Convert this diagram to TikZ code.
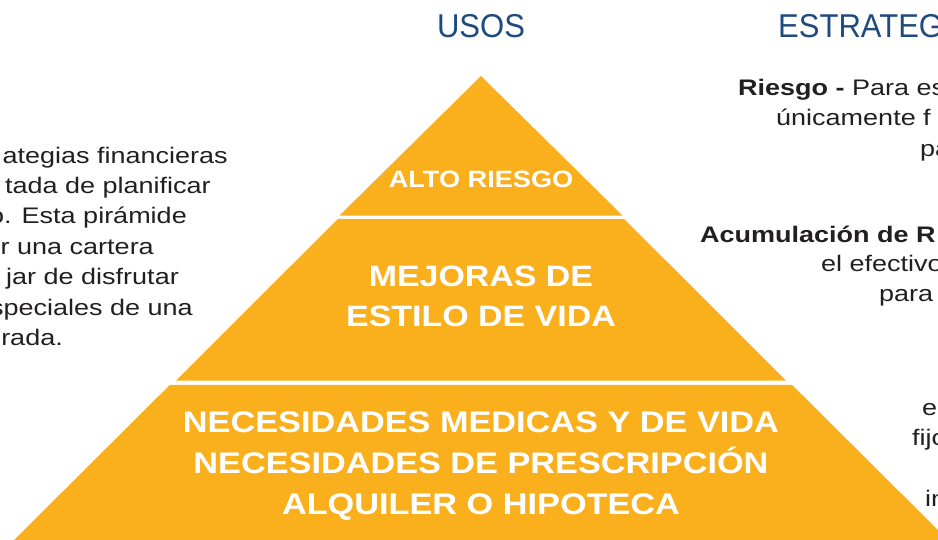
\documentclass[tikz,border=0pt]{standalone}
\usepackage{fontspec}
\setmainfont{Liberation Sans}[FakeStretch=1.2]
\newfontfamily\pyrfont{Liberation Sans Bold}[FakeStretch=1.15]
\newfontfamily\headfont{Liberation Sans}[FakeStretch=0.94]
\definecolor{pyr}{RGB}{249,176,28}
\definecolor{headblue}{RGB}{30,74,126}
\definecolor{txt}{RGB}{35,31,32}
\tikzset{
  tier/.style={fill=pyr, draw=none},
  pyrtext/.style={text=white, font=\pyrfont, inner sep=0pt, align=center},
  head/.style={text=headblue, font=\headfont\fontsize{33}{36}\selectfont, inner sep=0pt},
  body/.style={text=txt, font=\fontsize{22.5}{30.4}\selectfont, inner sep=0pt},
}
\begin{document}
\begin{tikzpicture}[x=1pt,y=-1pt]
\useasboundingbox (0,0) rectangle (938,539);
\begin{scope}
\clip (0,0) rectangle (938,539);
% pyramid tiers
\fill[tier] (481,76) -- (622.5,215.5) -- (339.5,215.5) -- cycle;
\fill[tier] (338,218.8) -- (624,218.8) -- (786,380.6) -- (176,380.6) -- cycle;
\fill[tier] (170,384.8) -- (792,384.8) -- (950,542) -- (12,542) -- cycle;
% pyramid texts
\node[pyrtext, anchor=base] (alto) at (481,187.3) {\fontsize{23.6}{28}\selectfont ALTO RIESGO};
\node[pyrtext, anchor=base] (mej1) at (481,286.7) {\fontsize{29.5}{40}\selectfont MEJORAS DE};
\node[pyrtext, anchor=base] (mej2) at (481,326.7) {\fontsize{29.5}{40}\selectfont ESTILO DE VIDA};
\node[pyrtext, anchor=base] (nec1) at (481,432.3) {\fontsize{29.8}{41}\selectfont NECESIDADES MEDICAS Y DE VIDA};
\node[pyrtext, anchor=base] (nec2) at (481,473.3) {\fontsize{29.8}{41}\selectfont NECESIDADES DE PRESCRIPCIÓN};
\node[pyrtext, anchor=base] (nec3) at (481,514.3) {\fontsize{29.8}{41}\selectfont ALQUILER O HIPOTECA};
% headers
\node[head, anchor=base] (usos) at (481,37) {USOS};
\node[head, anchor=base west] (estr) at (778,37) {ESTRATEG};
% left text
\node[body, anchor=base east] (l1) at (228,163) {ategias financieras};
\node[body, anchor=base east] (l2) at (211,193.4) {tada de planificar};
\node[body, anchor=base east] (l3) at (187,223.8) {o. Esta pirámide};
\node[body, anchor=base east] (l4) at (154,254.2) {r una cartera};
\node[body, anchor=base east] (l5) at (179,284.6) {jar de disfrutar};
\node[body, anchor=base east] (l6) at (193,315) {speciales de una};
\node[body, anchor=base east] (l7) at (63,345.4) {urada.};
% right text
\node[body, anchor=base west] (r1) at (738,95) {\textbf{Riesgo -} Para es};
\node[body, anchor=base west] (r2) at (776,125.5) {únicamente f};
\node[body, anchor=base west] (r3) at (920,156) {pa};
\node[body, anchor=base west] (r4) at (700,242) {\textbf{Acumulación de R}};
\node[body, anchor=base west] (r5) at (821,271.5) {el efectivo};
\node[body, anchor=base west] (r6) at (879,301) {para};
\node[body, anchor=base west] (r7) at (922,415) {e};
\node[body, anchor=base west] (r8) at (912,445.5) {fijo};
\node[body, anchor=base west] (r9) at (925,506) {in};
\end{scope}
\end{tikzpicture}
\end{document}
